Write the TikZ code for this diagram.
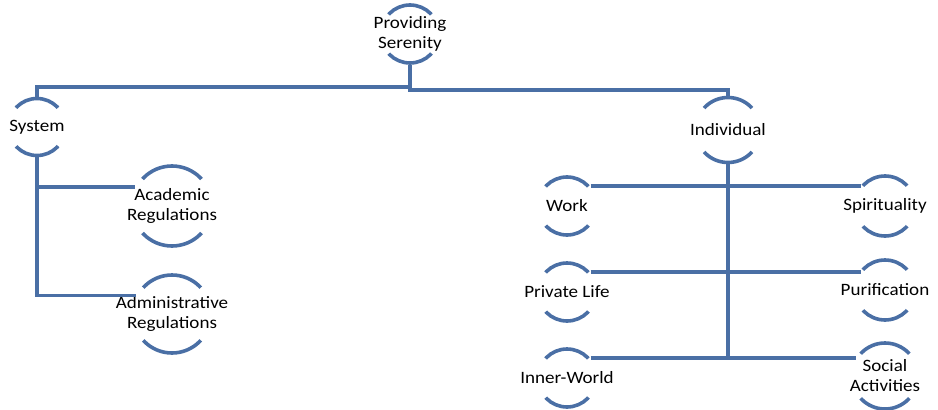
\documentclass[tikz,border=0pt]{standalone}
\usepackage{fontspec}
\setmainfont{Carlito}[FakeStretch=1.1]
\usetikzlibrary{calc}
\definecolor{chartblue}{HTML}{4A6FA5}

\begin{document}
\begin{tikzpicture}[
    x=0.75pt, y=-0.75pt,
    link/.style={draw=chartblue, line width=2.7pt},
    txt/.style={align=center, font=\fontsize{13}{15}\selectfont, text=black},
    ring/.style 2 args={
        circle, draw=chartblue, line width=2.7pt, inner sep=0pt,
        minimum size=1.5*#1pt,
        dash pattern=on 1.2435*#1pt off 1.1126*#1pt, dash phase=1.8*#1pt,
        label={[txt]center:#2}
    },
]
\useasboundingbox (0,0) rectangle (938,410);

% ---- root and first level ----
\node[ring={29}{Providing\\Serenity}] (top) at (410,34) {};
\node[ring={28.5}{System}] (sys) at (37,127) {};
\node[ring={32.5}{Individual}] (ind) at (728,130) {};

% ---- system branch ----
\node[ring={40}{Academic\\Regulations}] (acad) at (172,206) {};
\node[ring={39}{Administrative\\Regulations}] (admin) at (172,314) {};

% ---- individual branch, left and right columns ----
\node[ring={29}{Work}] (work) at (567,206) {};
\node[ring={29}{Private Life}] (priv) at (567,292) {};
\node[ring={29}{Inner-World}] (inner) at (567,378) {};
\node[ring={30}{Spirituality}] (spir) at (885,206) {};
\node[ring={30}{Purification}] (puri) at (885,290) {};
\node[ring={33}{Social\\Activities}] (soc) at (885,376) {};

% ---- connectors ----
\draw[link] (top.south) -- ++(0,22) -| (sys.north);
\draw[link] (top.south) -- ++(0,25) -| (ind.north);
\draw[link] (sys.south) |- (acad.153);
\draw[link] (sys.south) |- (admin.153);
\draw[link] (ind.south) |- (inner.40);
\draw[link] (work.40) -- (work.40 -| spir.140);
\draw[link] (priv.40) -- (priv.40 -| puri.140);
\draw[link] (inner.40) -- (inner.40 -| soc.146);

\end{tikzpicture}
\end{document}
